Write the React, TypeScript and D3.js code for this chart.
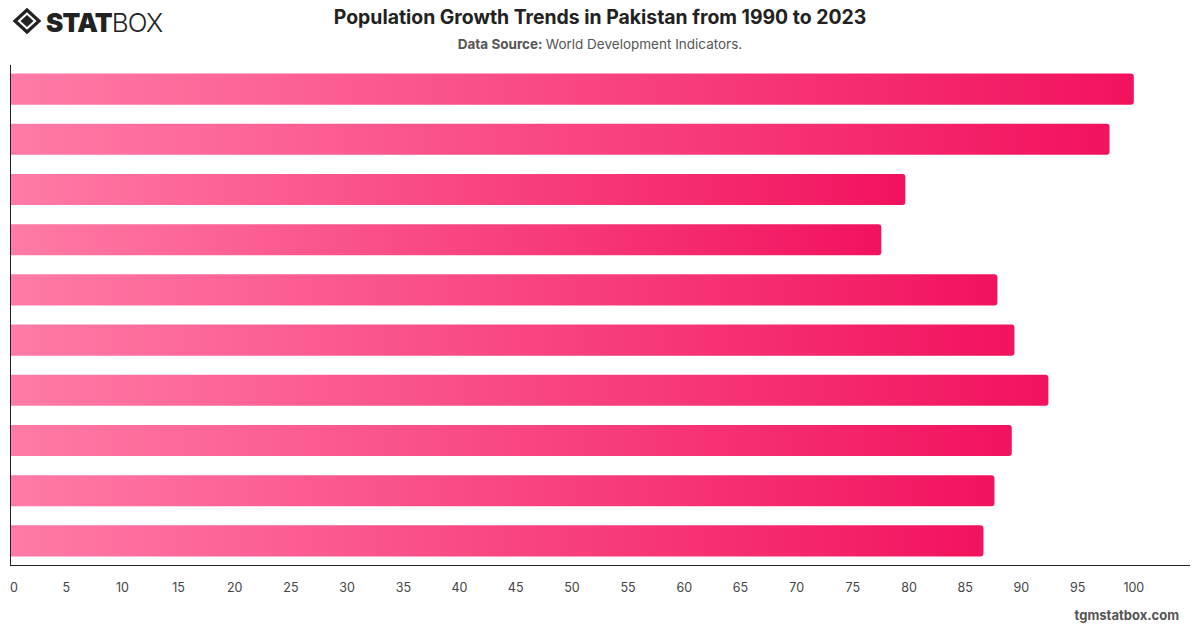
import React, { useEffect, useRef } from "react";
import * as d3 from "d3";

// Year labels are not drawn on the axis, but each bar is one period
const periods = ["1990", "1994", "1998", "2002", "2006", "2010", "2014", "2018", "2021", "2023"];
const values = [100, 97.84, 79.67, 77.53, 87.86, 89.38, 92.4, 89.14, 87.6, 86.62];
const xTicks = [0, 5, 10, 15, 20, 25, 30, 35, 40, 45, 50, 55, 60, 65, 70, 75, 80, 85, 90, 95, 100];

const W = 1200;
const H = 628;
const FONT = "Inter, 'Helvetica Neue', Arial, sans-serif";

const App = () => {
  const ref = useRef<SVGSVGElement>(null);

  useEffect(() => {
    const svg = d3.select(ref.current);
    svg.selectAll("*").remove();

    const margin = { top: 65, right: 10, bottom: 63, left: 10 };
    const innerW = W - margin.left - margin.right;
    const innerH = H - margin.top - margin.bottom;

    svg.append("rect").attr("width", W).attr("height", H).attr("fill", "#fff");

    // per-bar gradient, light pink to hot pink
    const defs = svg.append("defs");
    const grad = defs
      .append("linearGradient")
      .attr("id", "barGrad")
      .attr("x1", "0%")
      .attr("x2", "100%")
      .attr("y1", "0%")
      .attr("y2", "0%");
    grad.append("stop").attr("offset", "0%").attr("stop-color", "#ff7ba6");
    grad.append("stop").attr("offset", "100%").attr("stop-color", "#f2125f");

    // header: logo
    const logo = svg.append("g").attr("transform", "translate(27,21)");
    logo
      .append("path")
      .attr("d", "M0,-11 L12,0 L0,11 L-12,0 Z")
      .attr("fill", "none")
      .attr("stroke", "#222")
      .attr("stroke-width", 3.2)
      .attr("stroke-linejoin", "miter");
    logo.append("path").attr("d", "M0,-6 L6.5,0 L0,6 L-6.5,0 Z").attr("fill", "#222");
    const logoText = svg
      .append("text")
      .attr("x", 46)
      .attr("y", 31.5)
      .attr("font-family", FONT)
      .attr("font-size", 26)
      .attr("fill", "#222")
      .attr("letter-spacing", -0.8);
    logoText.append("tspan").attr("font-weight", 900).text("STAT");
    logoText.append("tspan").attr("font-weight", 300).text("BOX");

    svg
      .append("text")
      .attr("x", 600)
      .attr("y", 24)
      .attr("text-anchor", "middle")
      .attr("font-family", FONT)
      .attr("font-size", 19.4)
      .attr("font-weight", 700)
      .attr("fill", "#222")
      .text("Population Growth Trends in Pakistan from 1990 to 2023");

    const sub = svg
      .append("text")
      .attr("x", 600)
      .attr("y", 49)
      .attr("text-anchor", "middle")
      .attr("font-family", FONT)
      .attr("font-size", 13.5)
      .attr("fill", "#555");
    sub.append("tspan").attr("font-weight", 700).text("Data Source: ");
    sub.append("tspan").text("World Development Indicators.");

    const g = svg.append("g").attr("transform", `translate(${margin.left},${margin.top})`);

    const x = d3.scaleLinear().domain([0, 105]).range([0, innerW]);
    const y = d3.scaleBand().domain(periods).range([0, innerH]).paddingInner(0.38).paddingOuter(0.17);

    // bars with square left end and rounded right end
    const r = 3;
    g.selectAll("path.bar")
      .data(values)
      .join("path")
      .attr("class", "bar")
      .attr("fill", "url(#barGrad)")
      .attr("d", (d, i) => {
        const x0 = x(0);
        const x1 = x(d);
        const y0 = y(periods[i])!;
        const h = y.bandwidth();
        return `M${x0},${y0} H${x1 - r} Q${x1},${y0} ${x1},${y0 + r} V${y0 + h - r} Q${x1},${y0 + h} ${x1 - r},${y0 + h} H${x0} Z`;
      });

    // axis lines
    g.append("line")
      .attr("x1", 0.5)
      .attr("x2", 0.5)
      .attr("y1", 0)
      .attr("y2", innerH)
      .attr("stroke", "#222")
      .attr("stroke-width", 1);
    g.append("line")
      .attr("x1", 0)
      .attr("x2", innerW)
      .attr("y1", innerH + 0.5)
      .attr("y2", innerH + 0.5)
      .attr("stroke", "#222")
      .attr("stroke-width", 1);

    g.selectAll("text.tick")
      .data(xTicks)
      .join("text")
      .attr("class", "tick")
      .attr("x", (d) => (d === 0 ? x(d) + 4 : x(d)))
      .attr("y", innerH + 27)
      .attr("text-anchor", "middle")
      .attr("font-family", FONT)
      .attr("font-size", 12.5)
      .attr("fill", "#444")
      .text((d) => String(d));

    svg
      .append("text")
      .attr("x", 1179)
      .attr("y", 620)
      .attr("text-anchor", "end")
      .attr("font-family", FONT)
      .attr("font-size", 13)
      .attr("font-weight", 700)
      .attr("fill", "#555")
      .text("tgmstatbox.com");
  }, []);

  return <svg ref={ref} width={W} height={H} style={{ display: "block", position: "absolute", left: 0, top: 0 }} />;
};

export default App;
